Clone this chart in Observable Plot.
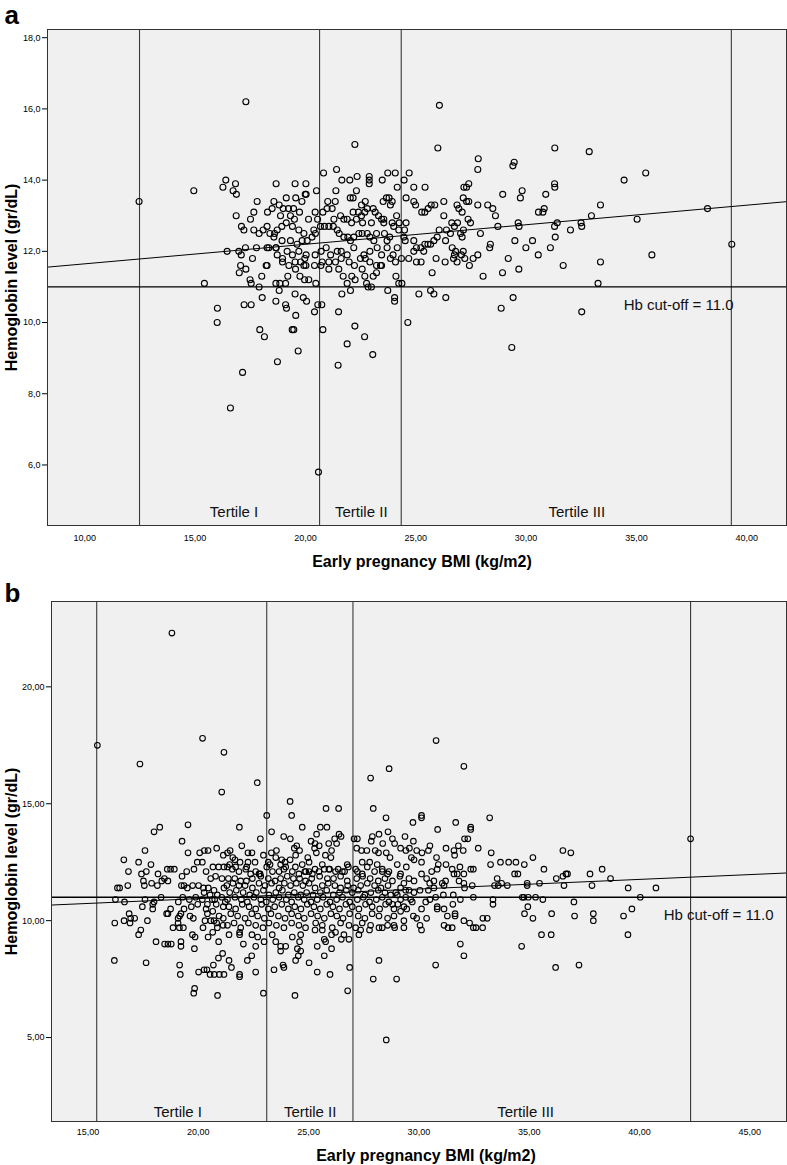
<!DOCTYPE html>
<html><head><meta charset="utf-8">
<script src="https://cdn.jsdelivr.net/npm/d3@7"></script>
<script src="https://cdn.jsdelivr.net/npm/@observablehq/plot@0.6"></script>
<style>
body{margin:0;background:#fff;}
svg{display:block}
</style></head><body>
<div id="chart"></div>
<script>
// ---------- Panel a data: [BMI, Hb] ----------
const pointsA = [
[12.46,13.4],[17.30,16.2],[22.24,15.0],
[14.94,13.7],[16.39,14.0],[16.26,13.8],[16.83,13.9],[16.72,13.7],[16.87,13.6],[18.67,13.9],[19.53,13.9],[20.02,13.9],[19.99,13.6],[20.50,13.7],[20.82,14.2],[21.41,14.3],[21.65,14.0],[21.38,13.7],[22.01,14.0],[22.34,14.1],[22.31,13.7],[22.89,14.1],[22.89,14.0],[22.89,13.9],[23.48,14.0],[23.73,14.2],[24.07,14.2],[24.16,13.8],
[17.81,13.4],[18.57,13.4],[19.13,13.5],[19.56,13.5],[19.84,13.4],[20.03,13.6],[18.81,13.3],[18.99,13.2],[19.23,13.2],[19.46,13.2],[19.73,13.1],[18.87,13.0],[19.32,13.0],[19.50,12.9],[18.28,13.1],[18.49,13.2],[17.66,13.1],[17.51,12.9],[16.86,13.0],[20.55,12.9],[20.44,13.1],[20.79,13.1],[21.01,13.4],[20.98,13.2],[21.35,13.4],[21.21,13.2],[21.29,12.9],[21.59,13.0],[21.74,12.9],[22.03,13.5],[22.16,13.5],[22.54,13.3],[22.71,13.4],[22.16,13.1],[22.40,13.1],[22.54,13.0],[22.69,13.1],[22.80,13.2],[23.07,13.2],[23.16,13.1],[23.31,13.0],[23.45,12.9],[23.52,13.4],[23.67,13.5],[23.79,13.5],[23.85,13.3],[23.93,13.4],[23.55,12.9],[24.13,13.0],[24.25,12.8],[21.89,12.9],[22.09,12.8],[22.31,12.9],[22.59,12.8],[22.99,12.8],[23.55,12.8],[23.93,12.8],
[17.10,12.7],[17.21,12.6],[17.66,12.6],[17.90,12.5],[18.08,12.6],[18.26,12.7],[18.39,12.5],[18.60,12.5],[18.72,12.6],[18.93,12.7],[19.13,12.8],[19.41,12.7],[19.70,12.6],[19.93,12.5],[20.14,12.9],[20.38,12.6],[20.45,12.5],[20.30,12.4],[20.08,12.3],[19.85,12.3],[19.62,12.2],[19.32,12.3],[18.94,12.3],[18.57,12.4],[18.34,12.1],[18.66,12.1],[20.68,12.7],[20.86,12.7],[21.06,12.7],[21.26,12.7],[21.44,12.6],[21.53,12.5],[21.74,12.4],[21.92,12.4],[22.19,12.4],[22.42,12.5],[22.57,12.5],[22.80,12.5],[22.92,12.4],[23.22,12.5],[23.58,12.5],[23.70,12.3],[23.82,12.4],[24.00,12.7],[24.23,12.6],[23.10,12.3],[22.04,12.3],
[16.45,12.0],[16.98,12.0],[17.09,11.9],[17.28,12.1],[17.60,11.8],[17.78,12.1],[18.26,12.1],[18.67,12.1],[18.72,11.9],[18.96,11.8],[19.17,12.0],[19.41,11.9],[19.70,12.0],[20.03,11.9],[19.97,11.8],[20.44,11.9],[20.71,12.0],[20.94,12.1],[21.14,11.9],[21.44,12.0],[21.62,12.0],[21.89,11.9],[22.19,12.1],[22.49,11.8],[22.65,11.9],[22.92,12.0],[23.25,12.1],[23.45,11.9],[23.70,12.1],[23.97,11.9],[24.16,12.1],[17.06,11.6],[18.26,11.6],[18.96,11.7],[19.25,11.6],[19.53,11.7],[19.78,11.7],[19.93,11.6],[20.41,11.6],[20.76,11.7],[21.06,11.7],[21.36,11.7],[21.62,11.8],[21.98,11.7],[22.22,11.6],[22.71,11.8],[22.92,11.7],[23.22,11.6],[23.40,11.6],[23.85,11.8],[24.08,11.7],[20.70,11.6],
[17.00,11.4],[17.30,11.5],[17.49,11.2],[18.02,11.3],[18.22,11.6],[19.20,11.3],[19.55,11.5],[19.75,11.3],[19.96,11.2],[20.02,11.6],[20.15,11.2],[21.06,11.5],[21.51,11.5],[21.71,11.3],[22.10,11.3],[22.25,11.2],[22.57,11.5],[22.69,11.3],[23.07,11.3],[23.22,11.4],[23.45,11.6],[24.10,11.3],[21.89,11.1],[24.23,11.1],
[15.42,11.1],[17.54,11.1],[17.90,11.0],[18.04,10.7],[18.66,11.1],[18.84,11.1],[19.10,11.1],[18.81,10.9],[18.66,10.6],[19.10,10.5],[19.53,10.8],[19.90,10.7],[20.05,10.6],[20.47,11.1],[16.01,10.4],[16.00,10.0],[17.22,10.5],[17.54,10.5],[19.14,10.4],[19.56,10.2],[17.93,9.8],[18.14,9.6],[19.40,9.8],[19.47,9.8],[20.41,10.3],[20.56,10.5],[20.74,10.5],[20.79,9.8],[19.67,9.2],[18.73,8.9],[17.15,8.6],[16.60,7.6],[20.59,5.8],[21.50,10.3],[21.65,10.8],[22.04,10.9],[22.24,9.9],[21.89,9.4],[22.68,9.6],[23.05,9.1],[21.48,8.8],[22.77,11.1],[22.84,11.0],[22.99,11.0],[23.73,10.9],[24.04,10.7],[24.04,10.6],
[26.07,16.1],[26.00,14.9],[27.83,14.6],[27.81,14.3],[29.40,14.4],[29.46,14.5],[31.30,14.9],[32.86,14.8],[34.44,14.0],[35.42,14.2],[31.29,13.9],[31.30,13.8],[29.82,13.7],[29.74,13.5],[30.89,13.6],[28.94,13.6],[24.70,14.2],[24.47,14.0],[24.91,13.8],[25.42,13.8],[27.18,13.8],[27.30,13.8],[27.40,13.9],[24.56,13.5],[24.91,13.4],[24.99,13.3],[25.41,13.1],[25.27,13.1],[25.56,13.2],[25.70,13.3],[25.86,13.3],[26.27,13.4],[26.27,13.0],[26.87,13.3],[27.15,13.5],[26.95,13.2],[27.10,13.1],[27.30,13.4],[27.40,13.4],[27.81,13.3],[28.26,13.3],[28.49,13.2],[28.61,13.0],[28.72,12.7],[30.56,13.1],[30.76,13.1],[30.82,13.2],[32.96,13.0],[33.37,13.3],[32.49,12.8],[32.52,12.7],[31.41,12.8],[31.29,12.7],[32.01,12.6],[29.64,12.8],[29.68,12.7],[38.22,13.2],[35.03,12.9],[39.32,12.2],[35.70,11.9],[33.37,11.7],[31.68,11.6],[33.26,11.1],[31.32,12.4],[31.10,12.1],[30.55,11.9],[30.29,12.3],[29.99,12.1],[29.49,12.3],[29.19,11.8],[29.67,11.5],[28.93,11.4],[28.38,12.2],[28.35,12.1],[28.05,11.3],[27.93,12.5],[27.81,11.9],[27.48,12.8],[27.37,12.9],[27.16,12.6],[27.03,12.5],[26.89,12.8],[26.75,12.7],[26.63,12.8],[26.57,12.5],[26.39,12.6],[26.06,12.6],[25.97,12.4],[25.82,12.3],[25.67,12.2],[25.55,12.2],[25.41,12.2],[25.23,12.1],[25.03,12.1],[24.91,12.3],[24.56,12.8],[24.49,12.6],[24.46,12.4],[24.52,12.3],[24.91,12.0],[25.03,11.7],[25.24,11.7],[25.36,12.0],[25.74,11.4],[25.92,11.8],[26.33,11.7],[26.35,12.3],[26.65,12.1],[26.80,12.0],[26.75,11.9],[26.87,11.7],[27.07,11.9],[27.10,12.4],[27.15,12.0],[27.22,11.8],[27.43,11.6],[27.60,11.8],[26.71,11.8],[24.35,11.8],[24.68,11.8],[24.37,11.1],[25.14,10.8],[25.67,10.9],[25.82,10.8],[26.36,10.7],[29.41,10.7],
[24.64,10.0],[28.87,10.4],[29.35,9.3],[32.52,10.3]
];
const refLinesA = [12.48, 20.64, 24.34, 39.3];      // min, tertile cut-offs, max
const fitA = {intercept: 11.10, slope: 0.0549};
const xDomainA = [8.31, 41.8], yDomainA = [4.30, 18.23];
const xTicksA = [10, 15, 20, 25, 30, 35, 40];
const yTicksA = [6, 8, 10, 12, 14, 16, 18];
const tertileLabelsA = [{x: 16.76, label: "Tertile I"}, {x: 22.53, label: "Tertile II"}, {x: 32.3, label: "Tertile III"}];
const cutoffLabelXA = 34.42;

// ---------- Panel b data: [BMI, Hb] ----------
const pointsB = [
[18.80,22.3],[15.42,17.5],[17.35,16.7],[20.19,17.8],[21.16,17.2],[22.67,15.9],[27.81,16.1],[28.65,16.5],[30.78,17.7],[32.04,16.6],[28.52,4.9],
[21.06,15.5],[18.25,14.0],[17.99,13.8],[19.53,14.1],[19.26,13.4],[17.58,13.0],[16.62,12.6],[17.29,12.5],[17.85,12.4],[16.83,12.1],[17.42,12.0],[17.64,12.1],[18.17,12.0],[17.51,11.7],[17.88,11.6],[17.55,11.5],[18.14,11.5],[18.34,11.7],[18.46,11.8],[18.62,11.7],[18.59,12.2],[18.74,12.2],[18.91,12.2],[19.26,11.9],[19.47,12.1],[19.53,12.9],[20.06,12.9],[20.27,13.0],[20.44,13.0],[20.83,13.1],[21.13,12.8],[19.95,12.5],[20.18,12.5],[19.80,12.2],[20.35,12.1],[20.66,12.3],[20.92,12.3],[21.16,12.3],[20.56,11.8],[20.78,11.9],[21.07,11.8],[19.23,11.5],[19.35,11.5],[19.50,11.4],[19.74,11.5],[20.01,11.5],[20.23,11.4],[20.45,11.4],[20.71,11.3],[21.16,11.4],[16.43,11.4],[16.33,11.4],[16.80,11.5],[16.24,10.9],[16.65,10.8],[17.58,10.9],[17.99,10.8],[17.93,10.7],[18.31,11.0],[17.46,10.6],[17.93,10.5],[18.74,10.5],[18.62,10.3],[18.56,10.3],[19.09,10.8],[19.29,11.0],[19.59,10.9],[19.88,11.0],[19.35,10.5],[19.68,10.6],[19.97,10.7],[19.15,10.2],[19.08,10.1],[19.21,10.3],[19.62,10.2],[19.77,10.1],[20.18,10.9],[20.35,10.5],[20.41,10.3],[20.65,10.4],[20.81,10.7],[20.86,11.1],[21.06,11.0],[21.22,10.8],[20.63,10.9],[20.94,10.2],[21.13,10.1],[20.30,10.0],[20.56,10.0],[20.71,10.0],[21.12,9.8],[20.86,9.7],[20.44,9.3],[20.65,9.5],[20.21,9.7],[16.86,10.3],[16.93,10.1],[17.11,10.1],[16.63,10.0],[16.90,9.9],[16.21,9.9],[17.69,10.0],[17.39,9.6],[17.29,9.4],[18.85,9.7],[19.14,9.7],[19.32,9.7],[19.08,9.9],[19.73,9.4],[19.85,9.3],[19.82,8.8],[18.08,9.1],[18.47,9.0],[18.62,9.0],[18.77,9.0],[19.21,9.1],[19.21,8.9],[20.92,9.1],[20.91,8.4],[21.10,8.6],[16.19,8.3],[17.63,8.2],[19.15,8.1],[19.18,7.7],[20.01,7.8],[20.26,7.9],[20.39,7.9],[20.53,7.7],[20.68,8.1],[20.72,7.7],[20.95,7.7],[21.16,7.7],[19.83,7.1],[19.79,6.9],[20.87,6.8],
[20.26,11.2],[20.53,11.1],[20.74,10.9],[20.41,10.7],[21.13,10.6],[20.83,9.9],
[24.16,15.1],[25.79,14.8],[26.36,14.8],[27.93,14.8],[24.23,14.5],[23.10,14.5],[28.51,14.4],[21.86,14.0],[24.71,14.0],[25.53,14.0],[25.83,14.0],[23.32,13.8],[25.36,13.7],[22.81,13.5],[23.87,13.6],[24.17,13.5],[25.11,13.4],[24.46,13.2],[24.35,13.1],[24.59,13.0],[25.29,13.3],[25.27,13.1],[25.35,12.9],[25.48,13.2],[25.91,13.3],[26.18,13.5],[26.38,13.7],[26.47,13.6],[26.27,13.3],[26.04,13.0],[25.76,12.8],[26.01,12.7],[27.06,13.5],[27.21,13.5],[27.18,13.1],[27.40,13.0],[27.64,13.0],[27.89,13.6],[27.84,13.4],[28.19,13.7],[28.36,13.3],[28.60,13.8],[28.02,13.0],[28.17,12.9],[28.52,12.9],[28.69,12.7],
[21.44,13.0],[21.32,12.9],[21.56,12.7],[21.97,13.2],[21.66,12.6],[21.89,12.5],[22.25,12.9],[22.43,12.9],[22.25,12.5],[22.57,12.5],[22.95,12.8],[23.31,12.9],[23.54,13.0],[23.17,12.5],[23.51,12.7],[23.78,12.6],[23.93,12.5],[24.16,12.6],[24.41,12.8],[24.96,12.7],[25.02,12.5],[24.71,12.4],
[21.32,12.3],[21.54,12.2],[21.84,12.1],[22.15,12.2],[22.37,12.0],[22.75,12.0],[23.10,12.3],[23.36,12.1],[23.66,12.1],[23.88,12.2],[24.26,12.1],[24.56,12.0],[24.87,12.1],[25.17,12.0],[25.47,12.1],[25.62,12.4],[25.92,12.2],[26.22,12.1],[26.53,12.1],[26.75,12.4],[27.13,12.2],[27.43,12.5],[27.77,12.5],[28.11,12.4],[28.34,12.2],[28.64,12.1],
[21.42,12.4],[21.69,12.3],[22.19,12.3],[22.60,12.1],[22.80,12.0],[23.25,12.4],[23.73,12.4],[23.96,12.3],[24.40,12.3],[24.83,12.1],[25.02,12.1],[25.29,12.2],[25.71,12.2],[25.95,12.2],[26.34,12.2],[26.63,12.1],[26.80,12.3],[27.21,12.1],[27.43,12.0],[27.66,12.3],[27.99,12.1],[28.34,12.1],[28.58,12.0],
[21.36,11.8],[21.65,11.8],[21.92,11.7],[22.18,11.7],[22.45,11.8],[22.83,11.9],[23.17,11.8],[23.48,11.7],[23.73,11.8],[24.03,11.9],[24.31,11.8],[24.59,11.8],[24.86,11.7],[25.14,11.8],[25.50,11.9],[25.85,11.8],[26.13,11.8],[26.45,11.9],[26.75,11.7],[27.18,11.8],[27.45,11.9],[27.79,11.8],[28.16,11.7],[28.46,11.8],
[21.29,11.5],[21.57,11.6],[21.84,11.5],[22.12,11.5],[22.45,11.4],[22.75,11.6],[23.02,11.5],[23.32,11.6],[23.66,11.4],[23.90,11.6],[24.18,11.5],[24.44,11.6],[24.74,11.5],[25.02,11.6],[25.29,11.4],[25.62,11.5],[25.89,11.6],[26.19,11.5],[26.45,11.4],[26.77,11.5],[27.04,11.4],[27.36,11.5],[27.66,11.6],[27.99,11.5],[28.28,11.4],[28.60,11.5],
[21.42,11.2],[21.72,11.3],[22.03,11.2],[22.33,11.1],[22.63,11.2],[22.95,11.3],[23.20,11.1],[23.51,11.2],[23.81,11.3],[24.08,11.1],[24.35,11.2],[24.64,11.1],[24.91,11.2],[25.20,11.1],[25.53,11.2],[25.82,11.3],[26.12,11.1],[26.40,11.2],[26.71,11.3],[26.98,11.2],[27.25,11.3],[27.55,11.1],[27.82,11.2],[28.16,11.3],[28.46,11.2],
[21.32,10.9],[21.66,11.0],[21.95,10.9],[22.22,10.8],[22.52,11.0],[22.83,10.9],[23.08,10.8],[23.37,10.9],[23.66,11.0],[23.99,10.9],[24.23,10.8],[24.53,11.0],[24.80,10.9],[25.11,10.8],[25.39,10.9],[25.66,11.0],[25.97,10.8],[26.27,10.9],[26.54,11.0],[26.86,10.8],[27.21,10.9],[27.48,11.0],[27.76,10.8],[28.07,10.9],[28.34,11.0],[28.64,10.8],
[21.39,10.6],[21.69,10.5],[21.99,10.7],[22.30,10.6],[22.60,10.5],[22.87,10.7],[23.17,10.5],[23.46,10.6],[23.78,10.7],[24.08,10.5],[24.37,10.6],[24.65,10.5],[24.94,10.7],[25.24,10.6],[25.53,10.5],[25.82,10.7],[26.10,10.6],[26.40,10.5],[26.69,10.7],[26.98,10.6],[27.28,10.5],[27.58,10.7],[27.88,10.6],[28.22,10.5],[28.49,10.7],
[21.47,10.3],[21.78,10.2],[22.12,10.1],[22.42,10.3],[22.69,10.2],[22.99,10.1],[23.29,10.3],[23.63,10.2],[23.93,10.1],[24.23,10.3],[24.53,10.2],[24.80,10.1],[25.11,10.3],[25.41,10.2],[25.71,10.1],[26.01,10.3],[26.28,10.2],[26.56,10.1],[26.86,10.3],[27.25,10.2],[27.55,10.1],[27.88,10.3],[28.19,10.2],[28.58,10.1],
[21.32,9.8],[21.62,9.9],[21.92,9.7],[22.27,9.9],[22.60,9.8],[22.93,9.7],[23.20,9.9],[23.54,9.8],[23.88,9.7],[24.23,9.9],[24.56,9.8],[24.86,9.7],[25.32,9.9],[25.62,9.8],[26.07,9.7],[26.45,9.9],[26.83,9.8],[27.13,9.7],[27.43,9.9],[27.81,9.8],[28.19,9.7],[28.58,9.8],
[21.39,9.4],[21.87,9.5],[21.87,9.4],[22.04,9.0],[22.43,9.4],[22.60,8.9],[22.69,9.3],[22.98,9.1],[23.35,9.4],[23.51,9.1],[23.73,8.9],[23.96,8.9],[23.73,8.7],[24.26,9.3],[24.64,9.4],[24.59,9.1],[24.49,8.8],[24.64,8.7],[25.29,9.6],[25.62,9.6],[25.71,9.2],[25.77,9.1],[25.39,8.9],[26.04,9.4],[26.22,9.5],[26.48,9.2],[26.60,9.4],[26.83,9.2],[27.28,9.4],[27.36,9.6],[27.76,9.6],[28.34,9.7],
[22.42,8.5],[21.39,8.3],[22.22,8.3],[21.50,8.0],[21.87,7.7],[21.87,7.6],[22.60,7.8],[23.43,7.9],[23.84,8.1],[23.88,8.0],[24.53,8.5],[24.41,8.3],[25.02,8.2],[25.71,8.5],[26.04,8.8],[25.39,7.8],[25.97,7.7],[26.86,8.0],[28.19,8.3],[27.93,7.5],[22.95,6.9],[24.38,6.8],[26.77,7.0],
[30.12,14.5],[30.12,14.4],[29.73,14.2],[31.67,14.2],[33.21,14.4],[32.35,14.0],[32.35,13.9],[30.85,13.9],[29.37,13.6],[28.80,13.5],[28.90,13.3],[29.75,13.4],[32.07,13.5],[32.22,13.5],[29.17,13.1],[29.41,13.0],[29.57,13.1],[29.90,13.0],[30.14,12.9],[30.43,13.0],[30.50,13.2],[31.23,13.1],[31.59,13.0],[31.79,13.2],[31.62,12.8],[32.01,13.0],[32.69,13.1],[33.28,12.9],[33.25,12.4],[33.70,12.5],[34.07,12.5],[34.40,12.5],[34.78,12.4],[35.17,12.7],[35.67,12.2],[36.23,11.8],[34.34,12.0],[34.49,12.0],
[29.02,12.4],[29.43,12.3],[29.66,12.7],[29.78,12.6],[30.12,12.5],[30.80,12.7],[30.88,12.4],[31.23,12.4],[30.83,12.2],[30.58,12.1],[30.12,12.0],[30.35,11.8],[29.17,12.0],[29.55,11.8],[29.78,11.7],[29.32,11.6],[29.14,11.9],[28.80,11.7],[31.06,11.6],[31.21,11.7],[31.14,11.5],[31.59,12.0],[31.74,12.0],[31.51,12.2],[31.86,12.3],[32.04,12.0],[32.35,12.2],[32.47,12.2],[31.82,11.7],[32.04,11.6],[32.07,11.4],[32.42,11.5],[30.68,11.7],[30.49,11.6],[30.68,11.4],[30.43,11.3],[30.05,11.3],[29.78,11.2],[29.55,11.3],[29.17,11.4],[29.40,11.3],[28.95,11.2],[28.72,11.1],[33.55,11.8],[33.60,11.5],[33.75,11.6],[34.01,11.5],[33.43,11.5],[34.91,11.6],[34.91,11.5],[35.47,11.6],[31.11,11.1],[31.56,11.1],[32.47,11.0],[31.88,10.9],[33.36,10.9],[33.36,10.7],[34.69,11.0],[34.76,11.0],[34.96,11.0],[35.29,11.0],[35.62,10.9],[34.94,10.6],[34.79,10.3],[35.17,10.1],[36.02,10.3],[35.56,9.4],[36.00,9.4],[34.66,8.9],[36.20,8.0],
[29.02,11.1],[29.17,10.9],[29.40,11.0],[29.63,10.9],[29.70,10.8],[29.05,10.7],[29.32,10.6],[28.80,10.7],[28.87,10.5],[29.17,10.4],[29.45,10.5],[30.12,10.5],[30.31,10.8],[30.50,10.9],[30.76,11.0],[30.83,10.6],[30.83,10.5],[31.14,10.5],[31.29,10.2],[31.54,10.7],[31.64,10.3],[31.64,10.2],[31.14,9.8],[31.32,9.7],[31.51,9.7],[32.04,10.0],[32.30,9.9],[32.47,9.7],[32.59,9.7],[32.90,10.1],[33.10,10.1],[32.89,9.7],[28.87,10.2],[28.87,9.8],[28.90,9.7],[29.32,10.0],[29.32,9.7],[29.75,10.2],[29.90,10.1],[30.35,10.1],[30.05,9.8],[30.12,9.6],[31.88,9.0],[32.04,8.5],[30.76,8.1],[28.99,7.5],
[42.32,13.5],[36.53,13.0],[36.89,12.9],[36.53,11.9],[36.67,12.0],[36.74,12.0],[36.58,11.5],[37.76,12.0],[38.31,12.2],[38.69,11.8],[37.85,11.5],[39.49,11.4],[40.75,11.4],[40.04,11.0],[37.03,10.8],[37.06,10.2],[37.91,10.3],[37.91,10.0],[39.28,10.2],[39.66,10.5],[39.48,9.4],[37.26,8.1]
];
const refLinesB = [15.39, 23.10, 27.01, 42.32];
const fitB = {intercept: 10.12, slope: 0.0411};
const xDomainB = [13.34, 46.67], yDomainB = [1.41, 23.65];
const xTicksB = [15, 20, 25, 30, 35, 40, 45];
const yTicksB = [5, 10, 15, 20];
const tertileLabelsB = [{x: 19.07, label: "Tertile I"}, {x: 25.07, label: "Tertile II"}, {x: 34.84, label: "Tertile III"}];
const cutoffLabelXB = 41.10;

const hbCutoff = 11.0;
const cutoffText = "Hb cut-off = 11.0";
const xTitle = "Early pregnancy BMI (kg/m2)";
const yTitle = "Hemoglobin level (gr/dL)";

const FONT = "'Liberation Sans', Arial, sans-serif";
const fmt = n => d => d.toFixed(n).replace(".", ",");

function panel(o) {
  const pts = o.points.map(([bmi, hb]) => ({bmi, hb}));
  const fitLine = o.xDomain.map(x => ({x, y: o.fit.intercept + o.fit.slope * x}));
  return Plot.plot({
    width: 787, height: o.height,
    marginLeft: o.ml, marginRight: 1, marginTop: o.mt, marginBottom: o.mb,
    style: {fontFamily: FONT, fontSize: "9px", color: "#000", background: "#fff", overflow: "visible"},
    x: {domain: o.xDomain},
    y: {domain: o.yDomain},
    marks: [
      Plot.frame({fill: "#f0f0f0", stroke: "none"}),
      Plot.ruleX(o.refLines, {stroke: "#3a3a3a", strokeWidth: 1.1}),
      Plot.line(fitLine, {x: "x", y: "y", stroke: "#000", strokeWidth: 1}),
      Plot.ruleY([hbCutoff], {stroke: "#000", strokeWidth: 1.3}),
      Plot.dot(pts, {x: "bmi", y: "hb", r: o.r, stroke: "#000", strokeWidth: 1.1, fill: "none"}),
      Plot.text(o.tertiles, {x: "x", text: "label", frameAnchor: "bottom", dy: o.tertileDy, lineAnchor: "bottom", fontSize: 15, fill: "#111"}),
      Plot.text([cutoffText], {x: () => o.cutoffX, y: () => hbCutoff, text: d => d, textAnchor: "start", lineAnchor: "middle", dy: 18, fontSize: 15, fill: "#111"}),
      Plot.axisX({ticks: o.xTicks, tickFormat: fmt(2), tickSize: 0, tickPadding: o.xPad, fontSize: 9, label: null}),
      Plot.axisY({ticks: o.yTicks, tickFormat: fmt(o.yDec), tickSize: 5, tickPadding: 2, fontSize: 9, label: null}),
      Plot.text([xTitle], {frameAnchor: "bottom", text: d => d, dy: o.xTitleDy, dx: o.xTitleDx, textAnchor: "middle", lineAnchor: "bottom", fontSize: 16, fontWeight: "bold"}),
      Plot.text([yTitle], {frameAnchor: "left", text: d => d, rotate: -90, dx: o.yTitleDx, textAnchor: "middle", lineAnchor: "bottom", fontSize: 16, fontWeight: "bold"}),
      Plot.text([o.tag], {frameAnchor: "top-left", text: d => d, dx: o.tagDx, dy: o.tagDy, textAnchor: "start", lineAnchor: "bottom", fontSize: 26, fontWeight: "bold"}),
      Plot.frame({stroke: "#333", strokeWidth: 1})
    ]
  });
}

const chart = document.getElementById("chart");
chart.append(panel({
  points: pointsA, refLines: refLinesA, fit: fitA, xDomain: xDomainA, yDomain: yDomainA,
  xTicks: xTicksA, yTicks: yTicksA, yDec: 1, tertiles: tertileLabelsA, cutoffX: cutoffLabelXA,
  height: 575, ml: 47, mt: 29, mb: 50, r: 3.0, xPad: 9, tertileDy: -9,
  xTitleDy: 41, xTitleDx: 5, yTitleDx: -31, tag: "a", tagDx: -43, tagDy: -6
}));
chart.append(panel({
  points: pointsB, refLines: refLinesB, fit: fitB, xDomain: xDomainB, yDomain: yDomainB,
  xTicks: xTicksB, yTicks: yTicksB, yDec: 2, tertiles: tertileLabelsB, cutoffX: cutoffLabelXB,
  height: 590, ml: 51, mt: 26, mb: 44, r: 2.8, xPad: 7.5, tertileDy: -5,
  xTitleDy: 39, xTitleDx: 7, yTitleDx: -35, tag: "b", tagDx: -47, tagDy: 0
}));
</script>
</body></html>
